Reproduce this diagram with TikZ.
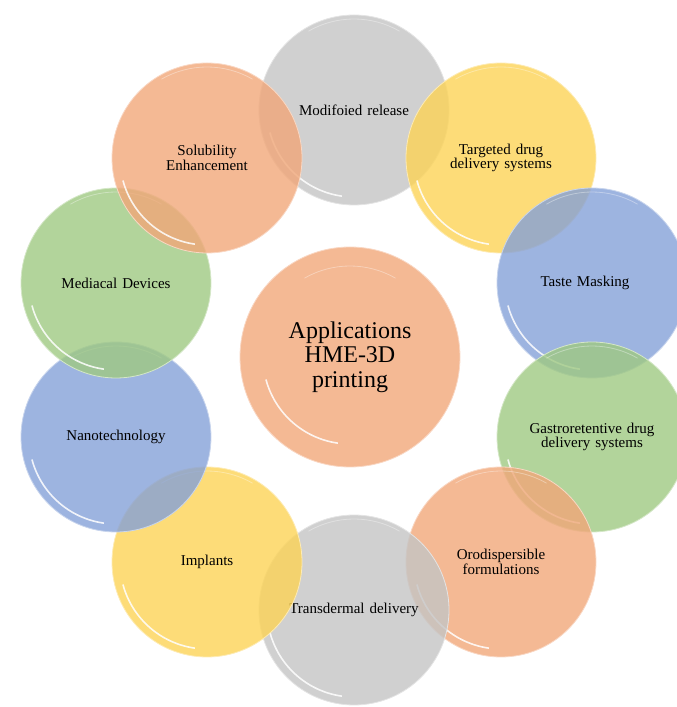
\documentclass[tikz,border=0pt]{standalone}
\usepackage{fontspec}
\setmainfont{Liberation Serif}
\definecolor{bubgray}{RGB}{196, 196, 196}
\definecolor{buborange}{RGB}{241, 167, 121}
\definecolor{bubyellow}{RGB}{252, 211, 86}
\definecolor{bubblue}{RGB}{133, 161, 216}
\definecolor{bubgreen}{RGB}{159, 201, 130}
\usepackage{tikz}
\usetikzlibrary{calc}

\begin{document}
\begin{tikzpicture}[x=1pt, y=1pt,
  bubble/.style={circle, minimum size=190pt, inner sep=0pt, fill=#1, fill opacity=0.8,
    text opacity=1, draw=#1!45!white, line width=0.8pt, text width=135pt, align=center,
    font=\fontsize{15}{14.5}\selectfont,
    path picture={
      \draw[white, line width=1.6pt, opacity=0.85]
        ($(path picture bounding box.center)+(195:87pt)$) arc[start angle=195, end angle=262, radius=87pt];
      \draw[white, line width=0.8pt, opacity=0.35]
        ($(path picture bounding box.center)+(60:91pt)$) arc[start angle=60, end angle=120, radius=91pt];
    }},
]
\useasboundingbox (0,0) rectangle (677,707);
\clip (0,0) rectangle (677,707);

% Centre
\node[bubble=buborange, minimum size=220pt, font=\fontsize{24}{24.5}\selectfont] (apps)
  at (350, 350) {Applications\\HME-3D\\printing};

% Ring of applications
\node[bubble=bubgray] (modrel) at (354, 597) {Modifoied release};
\node[bubble=bubyellow] (target) at (501, 549) {Targeted drug\\delivery systems};
\node[bubble=bubblue] (taste) at (592, 424) {\hspace*{-14pt}Taste Masking};
\node[bubble=bubgreen] (gastro) at (592, 270) {Gastroretentive drug\\delivery systems};
\node[bubble=buborange] (orodisp) at (501, 145) {Orodispersible\\formulations};
\node[bubble=bubgray] (transderm) at (354, 97) {Transdermal delivery};
\node[bubble=bubyellow] (implant) at (207, 145) {Implants};
\node[bubble=bubblue] (nano) at (116, 270) {Nanotechnology};
\node[bubble=bubgreen] (meddev) at (116, 424) {Mediacal Devices};
\node[bubble=buborange] (solub) at (207, 549) {Solubility\\Enhancement};
\end{tikzpicture}
\end{document}
